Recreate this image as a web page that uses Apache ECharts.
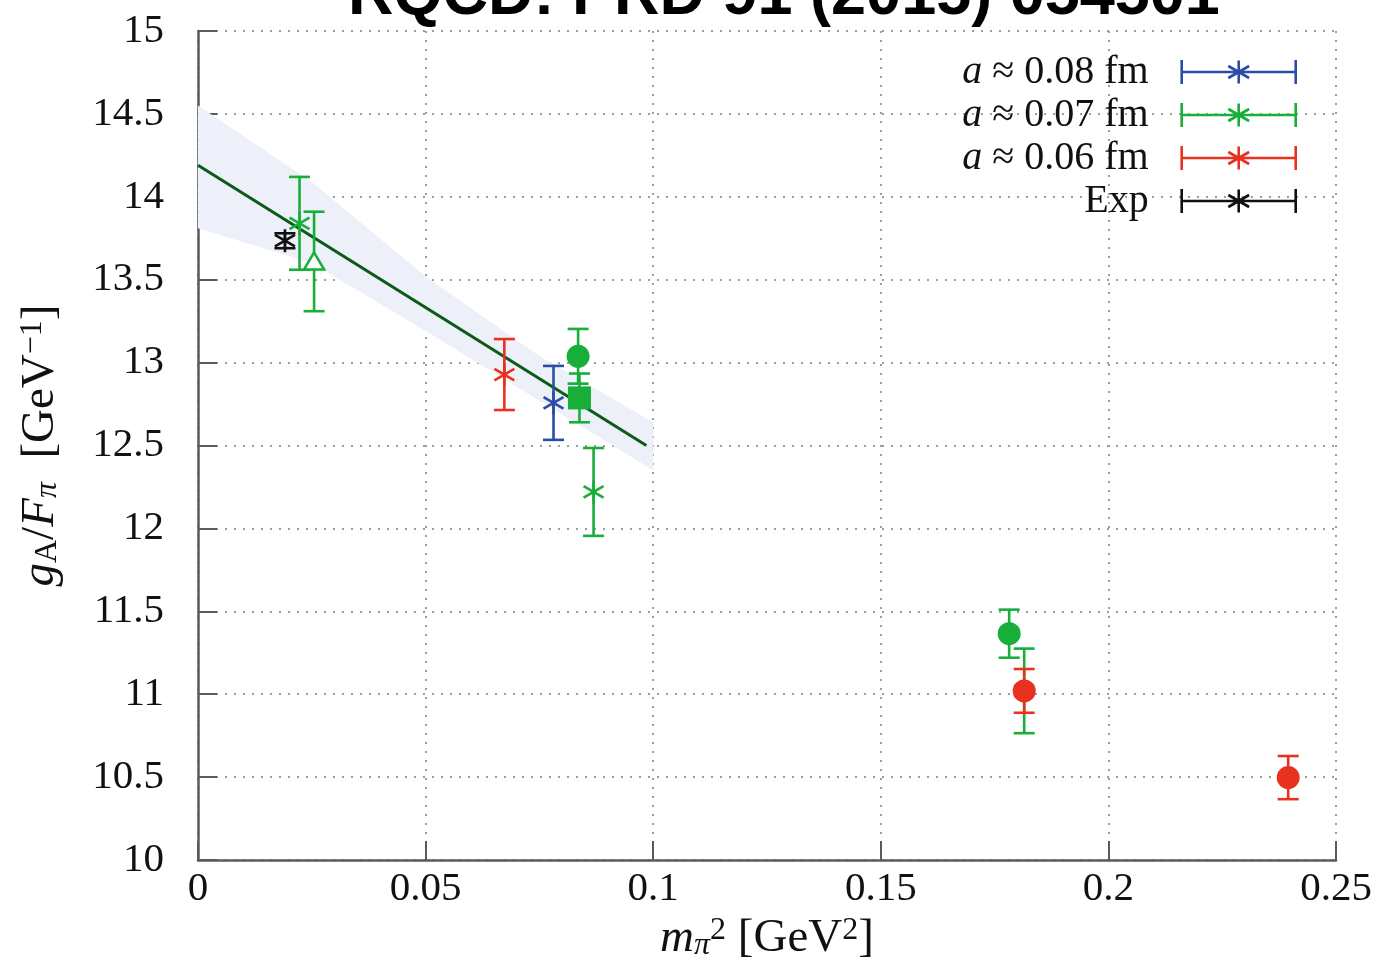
<!DOCTYPE html>
<html><head><meta charset="utf-8">
<script src="https://cdn.jsdelivr.net/npm/echarts@6/dist/echarts.min.js"></script>
<style>html,body{margin:0;padding:0;background:#fff}#c{width:1378px;height:968px}</style>
</head><body><div id="c"></div>
<script>
// ---- data ----
const xTickLabels = ['0', '0.05', '0.1', '0.15', '0.2', '0.25'];
const yTickLabels = ['10', '10.5', '11', '11.5', '12', '12.5', '13', '13.5', '14', '14.5', '15'];
const legendNames = ['a ≈ 0.08 fm', 'a ≈ 0.07 fm', 'a ≈ 0.06 fm', 'Exp'];
const titleText = 'RQCD: PRD 91 (2015) 054501';

// a ≈ 0.08 fm (blue)
const blueX = [0.0781];
const blueY = [12.757];
const blueErr = [0.223];
const blueSym = ['star'];

// a ≈ 0.07 fm (green)
const greenX = [0.0223, 0.0255, 0.0835, 0.0838, 0.0869, 0.1782, 0.1815];
const greenY = [13.84, 13.61, 13.038, 12.787, 12.22, 11.365, 11.02];
const greenErr = [0.28, 0.30, 0.165, 0.147, 0.265, 0.145, 0.255];
const greenSym = ['star', 'triangle', 'circle', 'square', 'star', 'circle', 'star'];

// a ≈ 0.06 fm (red)
const redX = [0.0673, 0.1815, 0.2395];
const redY = [12.928, 11.02, 10.497];
const redErr = [0.214, 0.132, 0.13];
const redSym = ['star', 'circle', 'circle'];

// Exp (black)
const expX = [0.0191];
const expY = [13.735];
const expErr = [0.045];
const expSym = ['star'];

// chiral fit line and error band
const fitX = [0, 0.0985];
const fitY = [14.19, 12.50];
const bandX = [0, 0.025, 0.05, 0.075, 0.1];
const bandLo = [13.81, 13.60, 13.19, 12.77, 12.35];
const bandHi = [14.55, 14.09, 13.52, 13.04, 12.64];

// ---- styling ----
const SERIF = '"Liberation Serif", "DejaVu Serif", serif';
const C_BLUE = '#2b4ea5', C_GREEN = '#17ae3a', C_RED = '#e8321f', C_BLACK = '#111111';
const C_FIT = '#0b5a17', C_BAND = '#edf0f8';
const LW = 2.6, CAP = 10.5;

function markerEl(sym, cx, cy, color) {
  if (sym === 'circle') {
    return { type: 'circle', shape: { cx, cy, r: 11.5 }, style: { fill: color } };
  }
  if (sym === 'square') {
    return { type: 'rect', shape: { x: cx - 11.5, y: cy - 11.5, width: 23, height: 23 }, style: { fill: color } };
  }
  if (sym === 'triangle') {
    return { type: 'polygon', shape: { points: [[cx, cy - 9], [cx - 10, cy + 8], [cx + 10, cy + 8]] },
      style: { fill: '#ffffff', stroke: color, lineWidth: LW } };
  }
  // six-armed asterisk
  const r = 11.5, dx = r * Math.cos(Math.PI / 6), dy = r * Math.sin(Math.PI / 6);
  return { type: 'group', children: [
    { type: 'line', shape: { x1: cx, y1: cy - r, x2: cx, y2: cy + r }, style: { stroke: color, lineWidth: LW } },
    { type: 'line', shape: { x1: cx - dx, y1: cy - dy, x2: cx + dx, y2: cy + dy }, style: { stroke: color, lineWidth: LW } },
    { type: 'line', shape: { x1: cx - dx, y1: cy + dy, x2: cx + dx, y2: cy - dy }, style: { stroke: color, lineWidth: LW } }
  ] };
}

function pointSeries(name, color, xs, ys, es, syms, z) {
  return {
    type: 'custom', name, z,
    itemStyle: { color },
    encode: { x: 0, y: 1 },
    data: xs.map((x, i) => [x, ys[i], es[i]]),
    renderItem(params, api) {
      const x = api.value(0), y = api.value(1), e = api.value(2);
      const c = api.coord([x, y]), t = api.coord([x, y + e]), b = api.coord([x, y - e]);
      const st = { stroke: color, lineWidth: LW };
      return { type: 'group', children: [
        { type: 'line', shape: { x1: c[0], y1: t[1], x2: c[0], y2: b[1] }, style: st },
        { type: 'line', shape: { x1: c[0] - CAP, y1: t[1], x2: c[0] + CAP, y2: t[1] }, style: st },
        { type: 'line', shape: { x1: c[0] - CAP, y1: b[1], x2: c[0] + CAP, y2: b[1] }, style: st },
        markerEl(syms[params.dataIndex], c[0], c[1], color)
      ] };
    }
  };
}

const ICON = 'path://M0,0 L0,24 M0,12 L114,12 M114,0 L114,24 M57,0.5 L57,23.5 M46.6,6 L67.4,18 M46.6,18 L67.4,6';
const gridDots = { show: true, lineStyle: { color: '#9d9d9d', width: 2, type: [2, 7] } };

const chart = echarts.init(document.getElementById('c'), null, { renderer: 'canvas' });
chart.setOption({
  animation: false,
  backgroundColor: '#ffffff',
  title: {
    text: titleText, left: 343, top: -40,
    textStyle: { fontFamily: '"Liberation Sans", Arial, sans-serif', fontWeight: 'bold', fontSize: 63, color: '#000' }
  },
  grid: { left: 198, right: 42, top: 31, bottom: 108, containLabel: false },
  xAxis: {
    type: 'value', min: 0, max: 0.25, interval: 0.05,
    axisLine: { show: true, lineStyle: { color: '#5a5a5a', width: 2.5 } },
    axisTick: { show: true, inside: true, length: 19, lineStyle: { color: '#5a5a5a', width: 2 } },
    splitLine: gridDots,
    axisLabel: {
      margin: 9, fontFamily: SERIF, fontSize: 41, color: '#111',
      formatter: v => xTickLabels[Math.round(v / 0.05)]
    },
    name: '{i|m}{sub|π}{sup|2}{n| [GeV}{sup|2}{n|]}',
    nameLocation: 'middle', nameGap: 42,
    nameTextStyle: {
      fontFamily: SERIF, fontSize: 47, color: '#111',
      rich: {
        i: { fontFamily: SERIF, fontStyle: 'italic', fontSize: 47, color: '#111' },
        n: { fontFamily: SERIF, fontSize: 47, color: '#111' },
        sub: { fontFamily: SERIF, fontStyle: 'italic', fontSize: 32, color: '#111', verticalAlign: 'bottom' },
        sup: { fontFamily: SERIF, fontSize: 32, color: '#111', verticalAlign: 'top' }
      }
    }
  },
  yAxis: {
    type: 'value', min: 10, max: 15, interval: 0.5,
    axisLine: { show: true, lineStyle: { color: '#5a5a5a', width: 2.5 } },
    axisTick: { show: true, inside: true, length: 19, lineStyle: { color: '#5a5a5a', width: 2 } },
    splitLine: gridDots,
    axisLabel: {
      margin: 34, fontFamily: SERIF, fontSize: 41, color: '#111',
      formatter: v => yTickLabels[Math.round((v - 10) / 0.5)]
    },
    name: '{i|g}{sub|A}{n|/}{i|F}{subi|π}{n|  [GeV}{sup|−1}{n|]}',
    nameLocation: 'middle', nameGap: 134, nameRotate: 90,
    nameTextStyle: {
      fontFamily: SERIF, fontSize: 47, color: '#111',
      rich: {
        i: { fontFamily: SERIF, fontStyle: 'italic', fontSize: 47, color: '#111' },
        n: { fontFamily: SERIF, fontSize: 47, color: '#111' },
        sub: { fontFamily: SERIF, fontSize: 32, color: '#111', verticalAlign: 'bottom' },
        subi: { fontFamily: SERIF, fontStyle: 'italic', fontSize: 32, color: '#111', verticalAlign: 'bottom' },
        sup: { fontFamily: SERIF, fontSize: 32, color: '#111', verticalAlign: 'top' }
      }
    }
  },
  legend: {
    orient: 'vertical', right: 76, top: 47, align: 'right',
    itemWidth: 114, itemHeight: 24, itemGap: 3,
    selectedMode: false,
    data: [
      { name: legendNames[0], icon: ICON, itemStyle: { color: 'rgba(0,0,0,0)', borderColor: C_BLUE, borderWidth: 2.6 } },
      { name: legendNames[1], icon: ICON, itemStyle: { color: 'rgba(0,0,0,0)', borderColor: C_GREEN, borderWidth: 2.6 } },
      { name: legendNames[2], icon: ICON, itemStyle: { color: 'rgba(0,0,0,0)', borderColor: C_RED, borderWidth: 2.6 } },
      { name: legendNames[3], icon: ICON, itemStyle: { color: 'rgba(0,0,0,0)', borderColor: C_BLACK, borderWidth: 2.6 } }
    ],
    formatter: n => (n.charAt(0) === 'a' ? '{i|a}{n|' + n.slice(1) + '}' : '{n|' + n + '}'),
    textStyle: {
      fontFamily: SERIF, fontSize: 40, color: '#111', padding: [0, 28, 0, 0],
      rich: {
        i: { fontFamily: SERIF, fontStyle: 'italic', fontSize: 40, color: '#111' },
        n: { fontFamily: SERIF, fontSize: 40, color: '#111' }
      }
    }
  },
  series: [
    {
      type: 'custom', name: 'band', z: 1, silent: true,
      data: bandX.map((x, i) => [x, bandLo[i], bandHi[i]]),
      encode: { x: 0, y: [1, 2] },
      renderItem(params, api) {
        if (params.dataIndex !== 0) return null;
        const pts = [];
        for (let i = 0; i < bandX.length; i++) pts.push(api.coord([bandX[i], bandHi[i]]));
        for (let i = bandX.length - 1; i >= 0; i--) pts.push(api.coord([bandX[i], bandLo[i]]));
        return { type: 'polygon', shape: { points: pts }, style: { fill: C_BAND } };
      }
    },
    {
      type: 'line', name: 'fit', z: 3, silent: true, symbol: 'none',
      data: fitX.map((x, i) => [x, fitY[i]]),
      lineStyle: { color: C_FIT, width: 3 }
    },
    pointSeries(legendNames[0], C_BLUE, blueX, blueY, blueErr, blueSym, 5),
    pointSeries(legendNames[1], C_GREEN, greenX, greenY, greenErr, greenSym, 5),
    pointSeries(legendNames[2], C_RED, redX, redY, redErr, redSym, 6),
    pointSeries(legendNames[3], C_BLACK, expX, expY, expErr, expSym, 6)
  ]
});
</script>
</body></html>
